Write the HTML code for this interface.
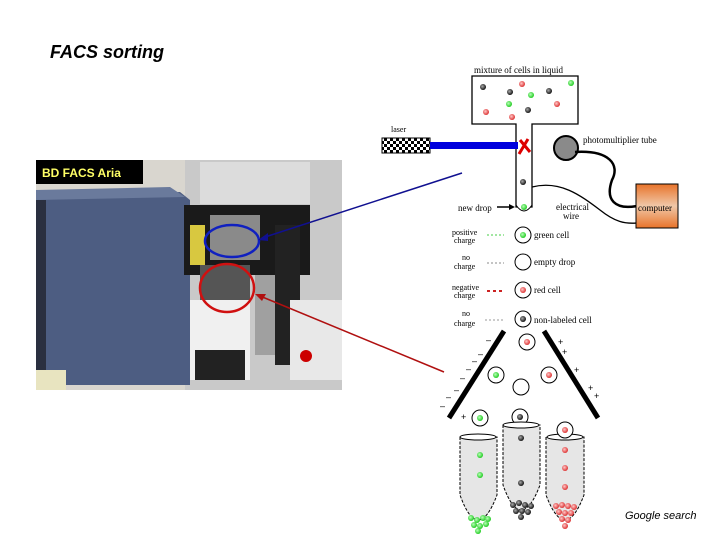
<!DOCTYPE html>
<html><head><meta charset="utf-8"><style>
html,body{margin:0;padding:0;background:#fff;}
svg{display:block}
</style></head><body>
<svg width="720" height="540" viewBox="0 0 720 540" xmlns="http://www.w3.org/2000/svg" font-family="Liberation Serif, serif">
<defs>
<linearGradient id="og" x1="0" y1="0" x2="0" y2="1"><stop offset="0" stop-color="#e8732a"/><stop offset="0.5" stop-color="#f0c8a8"/><stop offset="1" stop-color="#e8732a"/></linearGradient>
<radialGradient id="gr" cx="0.4" cy="0.4" r="0.6"><stop offset="0" stop-color="#b8ffb8"/><stop offset="1" stop-color="#22cc22"/></radialGradient>
<radialGradient id="rd" cx="0.4" cy="0.4" r="0.6"><stop offset="0" stop-color="#ffc8c8"/><stop offset="1" stop-color="#dd3333"/></radialGradient>
<radialGradient id="bk" cx="0.4" cy="0.4" r="0.6"><stop offset="0" stop-color="#aaa"/><stop offset="1" stop-color="#111"/></radialGradient>
<pattern id="chk" width="6" height="6" patternUnits="userSpaceOnUse"><rect width="6" height="6" fill="#fff"/><rect width="3" height="3" fill="#000"/><rect x="3" y="3" width="3" height="3" fill="#000"/></pattern>
</defs>
<text x="50" y="58" font-family="Liberation Sans, sans-serif" font-size="18" font-weight="bold" font-style="italic">FACS sorting</text>

<!-- photo -->
<rect x="36" y="160" width="306" height="230" fill="#d9d6cf"/>
<rect x="185" y="160" width="157" height="230" fill="#c9c9c9"/>
<rect x="200" y="162" width="110" height="42" fill="#dcdcdc"/>
<polygon points="36,195 180,192 190,200 190,385 36,385" fill="#4d5d82"/>
<polygon points="36,190 170,187 185,197 36,200" fill="#6a7a9c"/>
<rect x="36" y="200" width="10" height="185" fill="#2a2f40"/>
<rect x="184" y="205" width="126" height="70" fill="#1a1a1a"/>
<rect x="190" y="225" width="15" height="40" fill="#d8c840"/>
<rect x="210" y="215" width="50" height="45" fill="#8a8a8a"/>
<rect x="200" y="265" width="50" height="45" fill="#555"/>
<rect x="275" y="225" width="25" height="140" fill="#222"/>
<rect x="190" y="300" width="60" height="80" fill="#f0f0f0"/>
<rect x="195" y="350" width="50" height="30" fill="#222"/>
<rect x="255" y="275" width="20" height="80" fill="#a0a0a0"/>
<rect x="290" y="300" width="52" height="80" fill="#e8e8e8"/>
<circle cx="306" cy="356" r="6" fill="#c00"/>
<rect x="36" y="370" width="30" height="20" fill="#e8e4c0"/>
<rect x="36" y="160" width="107" height="24" fill="#000"/>
<text x="42" y="177" font-family="Liberation Sans, sans-serif" font-size="12" font-weight="bold" fill="#ffff66">BD FACS Aria</text>
<ellipse cx="232" cy="241" rx="27" ry="16" fill="none" stroke="#1020c0" stroke-width="2.5"/>
<ellipse cx="227" cy="288" rx="27" ry="24" fill="none" stroke="#d01010" stroke-width="2.5"/>
<line x1="462" y1="173" x2="262" y2="238" stroke="#101090" stroke-width="1.5"/>
<polygon points="258,240 268,233 268,241" fill="#101090"/>
<line x1="444" y1="372" x2="260" y2="296" stroke="#b01010" stroke-width="1.5"/>
<polygon points="255,294 266,294 262,301" fill="#b01010"/>

<!-- diagram -->
<text x="474" y="73" font-size="9">mixture of cells in liquid</text>
<path d="M472,76 H578 V124 H532 V207 H516 V124 H472 Z" fill="#fff" stroke="#000" stroke-width="1.3"/>
<path d="M516,205 Q524,217 532,205" fill="#fff" stroke="#000"/>
<g>
<circle cx="483" cy="87" r="3" fill="url(#bk)"/><circle cx="522" cy="84" r="3" fill="url(#rd)"/><circle cx="571" cy="83" r="3" fill="url(#gr)"/>
<circle cx="510" cy="92" r="3" fill="url(#bk)"/><circle cx="531" cy="95" r="3" fill="url(#gr)"/><circle cx="549" cy="91" r="3" fill="url(#bk)"/>
<circle cx="509" cy="104" r="3" fill="url(#gr)"/><circle cx="557" cy="104" r="3" fill="url(#rd)"/><circle cx="528" cy="110" r="3" fill="url(#bk)"/>
<circle cx="486" cy="112" r="3" fill="url(#rd)"/><circle cx="512" cy="117" r="3" fill="url(#rd)"/>
<circle cx="523" cy="182" r="3" fill="url(#bk)"/><circle cx="524" cy="207" r="3" fill="url(#gr)"/>
</g>
<text x="391" y="132" font-size="8">laser</text>
<rect x="382" y="138" width="48" height="15" fill="url(#chk)" stroke="#000"/>
<rect x="430" y="142" width="88" height="7" fill="#0000dd"/>
<path d="M520,140 L530,152 M528,139 L519,154" stroke="#d00" stroke-width="3"/>
<circle cx="566" cy="148" r="12" fill="#8a8a8a" stroke="#000" stroke-width="2"/>
<text x="583" y="143" font-size="9">photomultiplier tube</text>
<path d="M575,152 C610,150 620,165 612,180 C605,200 615,210 637,206" fill="none" stroke="#000" stroke-width="2.5"/>
<path d="M532,187 C560,180 580,195 600,210 C615,222 625,224 637,223" fill="none" stroke="#000" stroke-width="1.3"/>
<rect x="636" y="184" width="42" height="44" fill="url(#og)" stroke="#000"/>
<text x="638" y="211" font-size="9">computer</text>
<text x="458" y="211" font-size="9">new drop</text>
<line x1="497" y1="207" x2="512" y2="207" stroke="#000" stroke-width="1.5"/>
<polygon points="515,207 509,204 509,210" fill="#000"/>
<text x="556" y="210" font-size="9">electrical</text><text x="563" y="219" font-size="9">wire</text>
<text x="452" y="235" font-size="8">positive</text><text x="454" y="243" font-size="8">charge</text>
<text x="462" y="260" font-size="8">no</text><text x="454" y="269" font-size="8">charge</text>
<text x="452" y="290" font-size="8">negative</text><text x="454" y="298" font-size="8">charge</text>
<text x="462" y="316" font-size="8">no</text><text x="454" y="326" font-size="8">charge</text>
<circle cx="523" cy="235" r="8" fill="#fff" stroke="#000"/><circle cx="523" cy="235" r="3" fill="url(#gr)"/>
<circle cx="523" cy="262" r="8" fill="#fff" stroke="#000"/>
<circle cx="523" cy="290" r="8" fill="#fff" stroke="#000"/><circle cx="523" cy="290" r="3" fill="url(#rd)"/>
<circle cx="523" cy="319" r="8" fill="#fff" stroke="#000"/><circle cx="523" cy="319" r="3" fill="url(#bk)"/>
<text x="534" y="238" font-size="9">green cell</text>
<text x="534" y="265" font-size="9">empty drop</text>
<text x="534" y="293" font-size="9">red cell</text>
<text x="534" y="323" font-size="9">non-labeled cell</text>
<line x1="487" y1="235" x2="504" y2="235" stroke="#4c4" stroke-dasharray="2,2"/>
<line x1="487" y1="263" x2="504" y2="263" stroke="#888" stroke-dasharray="2,2"/>
<line x1="487" y1="291" x2="504" y2="291" stroke="#c22" stroke-width="2" stroke-dasharray="3,3"/>
<line x1="485" y1="320" x2="504" y2="320" stroke="#999" stroke-dasharray="2,2"/>
<line x1="504" y1="331" x2="449" y2="418" stroke="#000" stroke-width="5"/>
<line x1="544" y1="331" x2="598" y2="418" stroke="#000" stroke-width="5"/>
<g font-family="Liberation Sans, sans-serif" font-size="9">
<text x="486" y="343">–</text><text x="478" y="357">–</text><text x="472" y="364">–</text><text x="466" y="372">–</text><text x="460" y="381">–</text><text x="454" y="393">–</text><text x="446" y="400">–</text><text x="440" y="409">–</text>
<text x="558" y="345">+</text><text x="562" y="355">+</text><text x="574" y="373">+</text><text x="588" y="391">+</text><text x="594" y="399">+</text>
<text x="461" y="420">+</text>
</g>
<circle cx="527" cy="342" r="8" fill="#fff" stroke="#000"/><circle cx="527" cy="342" r="3" fill="url(#rd)"/>
<circle cx="496" cy="375" r="8" fill="#fff" stroke="#000"/><circle cx="496" cy="375" r="3" fill="url(#gr)"/>
<circle cx="521" cy="387" r="8" fill="#fff" stroke="#000"/>
<circle cx="549" cy="375" r="8" fill="#fff" stroke="#000"/><circle cx="549" cy="375" r="3" fill="url(#rd)"/>
<circle cx="480" cy="418" r="8" fill="#fff" stroke="#000"/><circle cx="480" cy="418" r="3" fill="url(#gr)"/>
<circle cx="520" cy="417" r="8" fill="#fff" stroke="#000"/><circle cx="520" cy="417" r="3" fill="url(#bk)"/>
<g stroke="#000" stroke-dasharray="3,1.5" fill="#e6e6e6">
<path d="M460,437 V495 Q478,545 497,495 V437 Z"/>
<path d="M503,425 V485 Q521,535 540,485 V425 Z"/>
<path d="M546,437 V495 Q565,545 584,495 V437 Z"/>
</g>
<ellipse cx="478" cy="437" rx="18" ry="3" fill="#fff" stroke="#000"/>
<ellipse cx="521" cy="425" rx="18" ry="3" fill="#fff" stroke="#000"/>
<ellipse cx="565" cy="437" rx="18" ry="3" fill="#fff" stroke="#000"/>
<circle cx="565" cy="430" r="8" fill="#fff" stroke="#000"/><circle cx="565" cy="430" r="3" fill="url(#rd)"/>
<circle cx="480" cy="455" r="3" fill="url(#gr)"/><circle cx="480" cy="475" r="3" fill="url(#gr)"/>
<circle cx="521" cy="438" r="3" fill="url(#bk)"/><circle cx="521" cy="483" r="3" fill="url(#bk)"/>
<circle cx="565" cy="450" r="3" fill="url(#rd)"/><circle cx="565" cy="468" r="3" fill="url(#rd)"/><circle cx="565" cy="487" r="3" fill="url(#rd)"/>
<g fill="url(#gr)"><circle cx="471" cy="518" r="3"/><circle cx="477" cy="520" r="3"/><circle cx="483" cy="518" r="3"/><circle cx="488" cy="519" r="3"/><circle cx="474" cy="525" r="3"/><circle cx="480" cy="526" r="3"/><circle cx="486" cy="524" r="3"/><circle cx="478" cy="531" r="3"/></g>
<g fill="url(#bk)"><circle cx="513" cy="505" r="3"/><circle cx="519" cy="503" r="3"/><circle cx="525" cy="505" r="3"/><circle cx="531" cy="506" r="3"/><circle cx="516" cy="511" r="3"/><circle cx="522" cy="511" r="3"/><circle cx="528" cy="512" r="3"/><circle cx="521" cy="517" r="3"/></g>
<g fill="url(#rd)"><circle cx="556" cy="506" r="3"/><circle cx="562" cy="505" r="3"/><circle cx="568" cy="506" r="3"/><circle cx="574" cy="507" r="3"/><circle cx="559" cy="512" r="3"/><circle cx="565" cy="513" r="3"/><circle cx="571" cy="513" r="3"/><circle cx="562" cy="519" r="3"/><circle cx="568" cy="520" r="3"/><circle cx="565" cy="526" r="3"/></g>
<text x="625" y="519" font-family="Liberation Sans, sans-serif" font-size="11" font-style="italic">Google search</text>
</svg>
</body></html>
